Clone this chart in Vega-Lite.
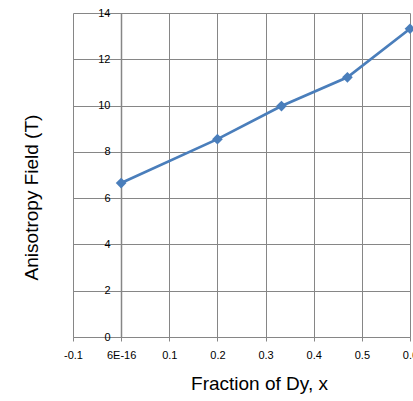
{
  "$schema": "https://vega.github.io/schema/vega-lite/v6.json",
  "width": 337,
  "height": 324,
  "autosize": "none",
  "padding": {"left": 73, "top": 13, "right": 3, "bottom": 64},
  "background": "white",
  "config": {
    "view": {"stroke": null},
    "font": "Liberation Sans"
  },
  "data": {
    "values": [
      {"x": 0, "field": 6.65},
      {"x": 0.2, "field": 8.55},
      {"x": 0.333, "field": 9.98},
      {"x": 0.47, "field": 11.22},
      {"x": 0.6, "field": 13.32}
    ]
  },
  "encoding": {
    "x": {
      "field": "x",
      "type": "quantitative",
      "scale": {"domain": [-0.1, 0.6], "nice": false, "zero": false},
      "axis": {
        "values": [-0.1, 0, 0.1, 0.2, 0.3, 0.4, 0.5, 0.6],
        "title": "Fraction of Dy, x",
        "titleFont": "Liberation Sans",
        "titleFontSize": 19,
        "titleFontWeight": "normal",
        "titleColor": "#000000",
        "titleX": 186,
        "titlePadding": 14,
        "labelExpr": "datum.value < -0.05 ? '-0.1' : (abs(datum.value) < 1e-9 ? '6E-16' : format(datum.value, '.1f'))",
        "labelFontSize": 11,
        "labelColor": "#000000",
        "labelPadding": 8,
        "labelFlush": false,
        "tickSize": 4,
        "tickColor": "#868686",
        "domainColor": "#868686",
        "domainWidth": 1,
        "grid": true,
        "gridColor": "#868686",
        "gridWidth": 1
      }
    },
    "y": {
      "field": "field",
      "type": "quantitative",
      "scale": {"domain": [0, 14], "nice": false},
      "axis": {
        "values": [0, 2, 4, 6, 8, 10, 12, 14],
        "title": "Anisotropy Field (T)",
        "titleFont": "Liberation Sans",
        "titleFontSize": 19,
        "titleFontWeight": "normal",
        "titleColor": "#000000",
        "titleY": 184,
        "titleX": -80,
        "offset": -48,
        "format": "d",
        "labelFontSize": 11,
        "labelColor": "#000000",
        "labelPadding": 6,
        "tickSize": 5,
        "tickColor": "#868686",
        "domainColor": "#868686",
        "domainWidth": 1.5,
        "grid": true,
        "gridColor": "#868686",
        "gridWidth": 1
      }
    }
  },
  "layer": [
    {
      "mark": {"type": "line", "color": "#4A7EBB", "strokeWidth": 2.75, "clip": false}
    },
    {
      "mark": {"type": "point", "shape": "diamond", "filled": true, "color": "#4A7EBB", "size": 115, "opacity": 1, "clip": false}
    }
  ]
}
